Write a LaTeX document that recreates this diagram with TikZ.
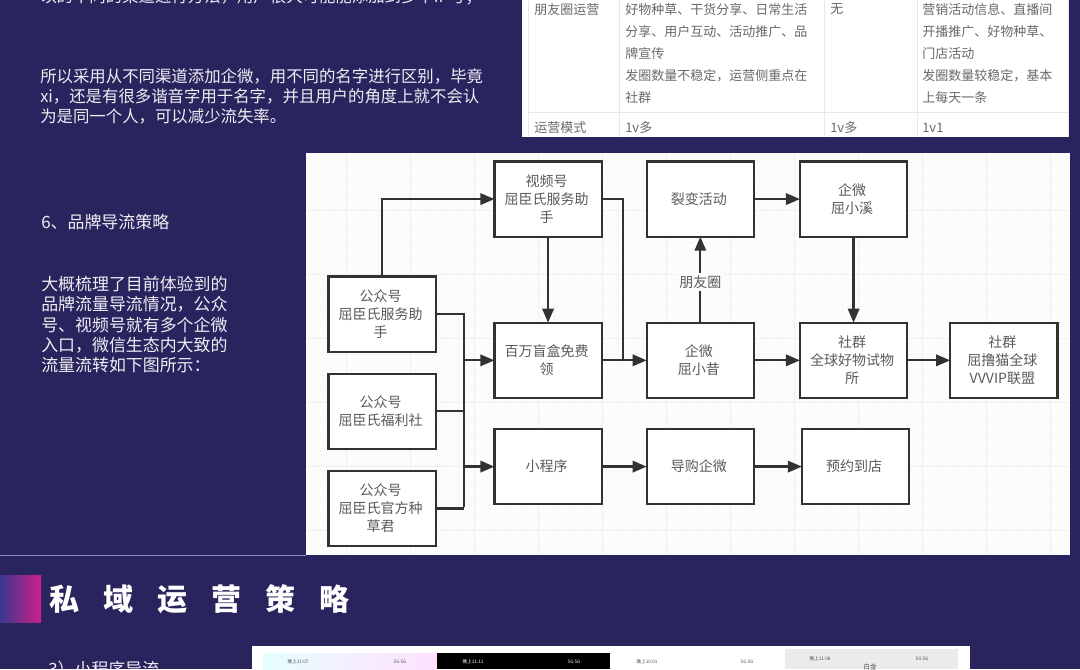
\documentclass[tikz,border=0pt]{standalone}
\usepackage{fontspec}
\usepackage{xcolor}
\usepackage{tikz}
\usetikzlibrary{arrows.meta}
\usetikzlibrary{matrix}
\setmainfont{Noto Sans CJK SC}
\newfontfamily\titlefont[LetterSpace=80]{Noto Sans CJK SC}
\definecolor{pagebg}{RGB}{41,36,94}
\definecolor{ruleline}{RGB}{140,132,190}
\definecolor{accentl}{RGB}{58,56,142}
\definecolor{accentr}{RGB}{204,32,136}
\definecolor{panelbg}{RGB}{252,252,252}
\definecolor{inkdark}{RGB}{50,50,50}
\definecolor{inktext}{RGB}{90,90,90}
\definecolor{tablegray}{RGB}{105,105,105}
\colorlet{paneltext}{white!92!pagebg}
\newcommand\celltext[1]{\vbox{\kern2.6pt\hbox{\begin{tabular}{@{}c@{}}#1\end{tabular}}}}
\newcommand\statusbar[4]{%
  \node[statustext,text=#4] (time#1) at (#2,#3) {#1};
}
\tikzstyle{flowhead}=[>/.tip={Triangle[length=10.5pt,width=8.5pt]}]
\tikzstyle{link} =[line width=1.7pt,draw=inkdark]
\tikzstyle{flow} =[link,flowhead,->]
\tikzstyle{cell} =[draw=inkdark,line width=1.7pt,fill=white,align=center,text=inktext,font=\fontsize{10.5}{13.5}\selectfont,minimum width=80.5pt,minimum height=56.5pt,inner sep=0pt,outer sep=0pt,anchor=center]
\tikzstyle{bodytext}=[text=paneltext,anchor=west,align=left,inner sep=0pt,font=\fontsize{12.3}{15}\selectfont]
\tikzstyle{sidetext}=[text=paneltext,anchor=west,align=left,inner sep=0pt,font=\fontsize{12.7}{15.2}\selectfont]
\tikzstyle{tabletext}=[text=tablegray,anchor=north west,align=left,inner sep=0pt,font=\fontsize{9.75}{16.5}\selectfont]
\tikzstyle{tableline}=[draw=black!9,line width=.5pt]
\tikzstyle{statustext}=[inner sep=0pt,font=\fontsize{3.5}{4}\selectfont]
\tikzstyle{minorgrid}=[draw=black!3,line width=.4pt]
\tikzstyle{majorgrid}=[draw=black!6,line width=.5pt]
\begin{document}
\begin{tikzpicture}[x=.75pt,y=-.75pt]
	\useasboundingbox (0,0) rectangle (1080,669);
	\clip (0,0) rectangle (1080,669);
	\fill[pagebg] (0,0) rectangle (1080,669);
	\node[bodytext] (topline) at (40,-3) {以的不同的渠道进行方法，用户很大可能能添加到多个IP号；};
	\node[bodytext,anchor=north west] (para) at (40,68) {所以采用从不同渠道添加企微，用不同的名字进行区别，毕竟\\xi，还是有很多谐音字用于名字，并且用户的角度上就不会认\\为是同一个人，可以减少流失率。};
	\node[sidetext] (heading) at (41,222) {6、品牌导流策略};
	\node[sidetext,anchor=north west] (intro) at (41,276) {大概梳理了目前体验到的\\品牌流量导流情况，公众\\号、视频号就有多个企微\\入口，微信生态内大致的\\流量流转如下图所示：};
	\fill[white] (522,0) rectangle (1068,137);
	\draw[tableline] (528,0) -- (528,137) (619,0) -- (619,137) (824,0) -- (824,137) (917,0) -- (917,137) (1068,0) -- (1068,137) (528,112) -- (1068,112);
	\node[tabletext] (moments) at (534,3.5) {朋友圈运营};
	\node[tabletext] (momentsa) at (625,3.5) {好物种草、干货分享、日常生活\\分享、用户互动、活动推广、品\\牌宣传\\发圈数量不稳定，运营侧重点在\\社群};
	\node[tabletext] (momentsb) at (830,3.5) {无};
	\node[tabletext] (momentsc) at (922,3.5) {营销活动信息、直播间\\开播推广、好物种草、\\门店活动\\发圈数量较稳定，基本\\上每天一条};
	\node[tabletext,anchor=base west] (mode) at (534,132) {运营模式};
	\node[tabletext,anchor=base west] (modea) at (625,132) {1v多};
	\node[tabletext,anchor=base west] (modeb) at (830,132) {1v多};
	\node[tabletext,anchor=base west] (modec) at (922,132) {1v1};
	\fill[panelbg] (306,153) rectangle (1070,555);
	\draw[minorgrid,shift={(10,2)},step=12pt] (296,151) grid (1060,553);
	\draw[majorgrid,shift={(26,18)},step=48pt] (280,135) grid (1044,537);
	\matrix [matrix of nodes,nodes={cell},anchor=north west,inner sep=0pt] (src) at (327,275) {
		\celltext{公众号\\屈臣氏服务助\\手}
	\\[14.75pt]\celltext{公众号\\屈臣氏福利社}
	\\[14.75pt]\celltext{公众号\\屈臣氏官方种\\草君}
	\\ };
	\matrix [matrix of nodes,nodes={cell},anchor=north west,inner sep=0pt] (flow) at (493,160) {
		\celltext{视频号\\屈臣氏服务助\\手} &[32pt] 裂变活动 &[32.75pt] \celltext{企微\\屈小溪} &[29pt] \\[62.75pt]
		\celltext{百万盲盒免费\\领} & \celltext{企微\\屈小昔} & \celltext{社群\\全球好物试物\\所} & \celltext{社群\\屈撸猫全球\\VVVIP联盟} \\[21.5pt]
		小程序 & 导购企微 & |[xshift=1.5pt]| 预约到店 & \\
	};
	\coordinate (bus) at (464,507);
	\coordinate (merge) at (623,359);
	\draw[flow] (src-1-1.north) |- (flow-1-1);
	\draw[link] (src-1-1.east) -| (bus);
	\draw[link] (src-2-1.east) -- (src-2-1.east -| bus);
	\draw[link] (src-3-1.east) -- (src-3-1.east -| bus);
	\draw[flow] (flow-2-1 -| bus) -- (flow-2-1);
	\draw[flow] (flow-3-1 -| bus) -- (flow-3-1);
	\draw[flow] (flow-1-1) -- (flow-2-1);
	\draw[link] (flow-1-1.east) -| (merge);
	\draw[flow] (flow-2-1) -- (flow-2-2);
	\draw[flow] (flow-2-2) --node[pos=.47,fill=panelbg,inner sep=2pt,text=inktext,font=\fontsize{10.5}{13.5}\selectfont] (circle) {朋友圈} (flow-1-2);
	\draw[flow] (flow-1-2) -- (flow-1-3);
	\draw[flow] (flow-1-3) -- (flow-2-3);
	\draw[flow] (flow-2-2) -- (flow-2-3);
	\draw[flow] (flow-2-3) -- (flow-2-4);
	\draw[flow] (flow-3-1) -- (flow-3-2);
	\draw[flow] (flow-3-2) -- (flow-3-3);
	\draw[ruleline,line width=.75pt] (0,555) -- (306,555);
	\shade[left color=accentl,right color=accentr] (0,575) rectangle (41,622);
	\node[anchor=west,inner sep=0pt,text=white,font=\titlefont\bfseries\fontsize{22.5}{26}\selectfont] (title) at (49,599) {私域运营策略};
	\node[sidetext] (subhead) at (48,669) {3）小程序导流};
	\fill[white] (252,646) rectangle (970,669);
	\shade[left color=cyan!10,right color=magenta!12] (263,653) rectangle (437,669);
	\fill[black] (437,653) rectangle (610,669);
	\fill[black!8] (785,649) rectangle (958,669);
	\statusbar{晚上11:07}{298}{662}{black!70}
	\statusbar{晚上11:11}{473}{662}{white!80}
	\statusbar{晚上10:01}{647}{662}{black!70}
	\statusbar{晚上11:08}{820}{659}{black!70}
	\node[statustext,text=black!70,font=\fontsize{5}{6}\selectfont] (gold) at (870,667) {白金};
	\node[statustext,text=black!70] (iconsa) at (400,662) {5G 5G};
	\node[statustext,text=white!80] (iconsb) at (574,662) {5G 5G};
	\node[statustext,text=black!70] (iconsc) at (747,662) {5G 5G};
	\node[statustext,text=black!70] (iconsd) at (922,659) {5G 5G};
\end{tikzpicture}
\end{document}
